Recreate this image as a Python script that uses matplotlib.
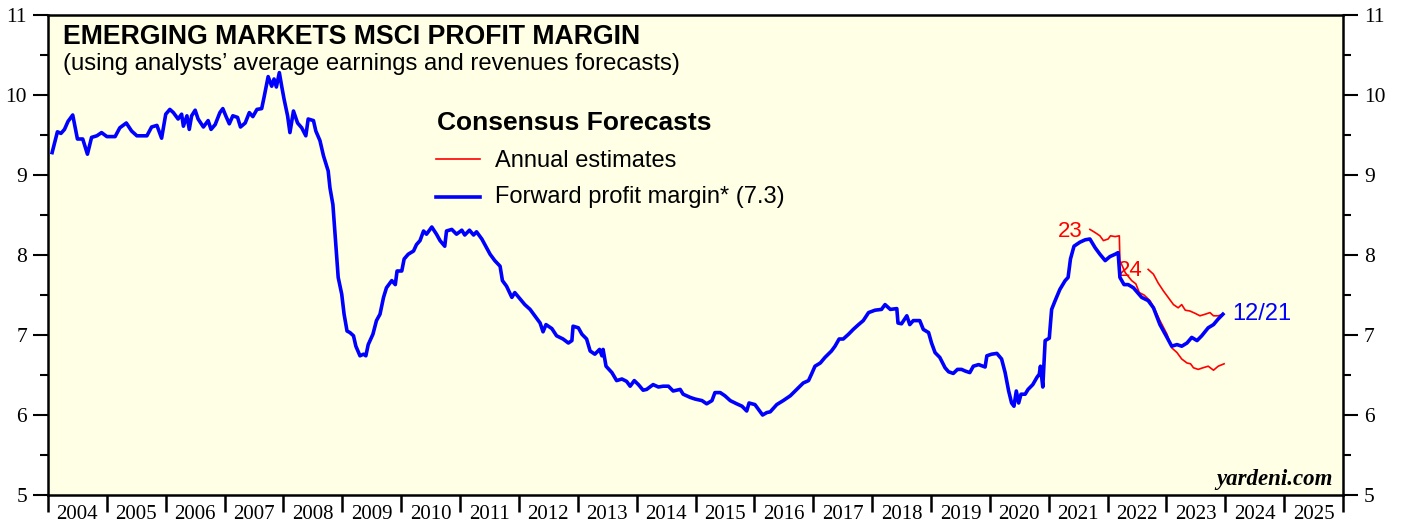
#!/usr/bin/python

import numpy as np
import matplotlib
matplotlib.use('Agg')
import matplotlib.pyplot as plt
from matplotlib.ticker import MultipleLocator, FixedLocator, NullFormatter

# forward profit margin (decimal year, percent)
fwd_dates = [
    2004.07, 2004.16, 2004.22, 2004.28, 2004.34, 2004.42, 2004.50, 2004.59, 2004.67, 2004.74,
    2004.83, 2004.91, 2005.00, 2005.14, 2005.22, 2005.33, 2005.42, 2005.51, 2005.68, 2005.76,
    2005.85, 2005.93, 2006.00, 2006.07, 2006.13, 2006.21, 2006.27, 2006.30, 2006.36, 2006.40,
    2006.44, 2006.50, 2006.55, 2006.64, 2006.72, 2006.77, 2006.84, 2006.92, 2006.97, 2007.02,
    2007.08, 2007.14, 2007.22, 2007.27, 2007.35, 2007.42, 2007.48, 2007.55, 2007.63, 2007.67,
    2007.74, 2007.80, 2007.84, 2007.88, 2007.93, 2007.97, 2008.01, 2008.07, 2008.11, 2008.17,
    2008.24, 2008.31, 2008.38, 2008.42, 2008.51, 2008.55, 2008.62, 2008.68, 2008.76, 2008.79,
    2008.84, 2008.89, 2008.93, 2008.99, 2009.03, 2009.08, 2009.13, 2009.19, 2009.23, 2009.30,
    2009.36, 2009.40, 2009.44, 2009.52, 2009.58, 2009.64, 2009.70, 2009.75, 2009.84, 2009.90,
    2009.93, 2010.01, 2010.05, 2010.12, 2010.21, 2010.26, 2010.32, 2010.38, 2010.43, 2010.52,
    2010.60, 2010.66, 2010.74, 2010.77, 2010.86, 2010.94, 2011.03, 2011.08, 2011.16, 2011.23,
    2011.28, 2011.37, 2011.45, 2011.51, 2011.59, 2011.68, 2011.72, 2011.79, 2011.88, 2011.93,
    2012.02, 2012.10, 2012.19, 2012.27, 2012.36, 2012.41, 2012.46, 2012.56, 2012.64, 2012.75,
    2012.84, 2012.90, 2012.92, 2013.01, 2013.07, 2013.15, 2013.21, 2013.29, 2013.37, 2013.41,
    2013.43, 2013.48, 2013.58, 2013.66, 2013.75, 2013.83, 2013.89, 2013.96, 2014.03, 2014.11,
    2014.17, 2014.28, 2014.37, 2014.45, 2014.54, 2014.62, 2014.74, 2014.79, 2014.91, 2014.99,
    2015.11, 2015.19, 2015.28, 2015.33, 2015.42, 2015.50, 2015.59, 2015.70, 2015.79, 2015.87,
    2015.91, 2016.01, 2016.07, 2016.14, 2016.21, 2016.27, 2016.38, 2016.49, 2016.61, 2016.72,
    2016.83, 2016.92, 2016.97, 2017.03, 2017.12, 2017.20, 2017.31, 2017.37, 2017.44, 2017.51,
    2017.60, 2017.68, 2017.77, 2017.85, 2017.94, 2018.05, 2018.16, 2018.22, 2018.31, 2018.42,
    2018.44, 2018.50, 2018.59, 2018.64, 2018.70, 2018.81, 2018.87, 2018.96, 2019.01, 2019.07,
    2019.15, 2019.24, 2019.30, 2019.38, 2019.45, 2019.52, 2019.58, 2019.66, 2019.72, 2019.81,
    2019.92, 2019.95, 2020.03, 2020.12, 2020.20, 2020.26, 2020.32, 2020.37, 2020.41, 2020.45,
    2020.49, 2020.53, 2020.60, 2020.65, 2020.73, 2020.80, 2020.84, 2020.86, 2020.90, 2020.94,
    2021.01, 2021.05, 2021.11, 2021.19, 2021.28, 2021.33, 2021.37, 2021.43, 2021.53, 2021.62,
    2021.70, 2021.79, 2021.87, 2021.96, 2022.04, 2022.13, 2022.18, 2022.21, 2022.28, 2022.35,
    2022.44, 2022.51, 2022.58, 2022.69, 2022.78, 2022.89, 2023.01, 2023.09, 2023.18, 2023.26,
    2023.35, 2023.43, 2023.52, 2023.60, 2023.71, 2023.80, 2023.88, 2023.96,
]
fwd_values = [
    9.28, 9.54, 9.52, 9.57, 9.67, 9.75, 9.45, 9.45, 9.26, 9.47,
    9.49, 9.53, 9.48, 9.48, 9.59, 9.65, 9.55, 9.49, 9.49, 9.60,
    9.62, 9.46, 9.76, 9.82, 9.78, 9.70, 9.76, 9.61, 9.74, 9.57,
    9.74, 9.81, 9.70, 9.60, 9.68, 9.57, 9.63, 9.78, 9.83, 9.74,
    9.64, 9.74, 9.72, 9.60, 9.65, 9.78, 9.73, 9.82, 9.83, 9.97,
    10.23, 10.11, 10.20, 10.10, 10.28, 10.11, 9.95, 9.74, 9.53, 9.80,
    9.65, 9.59, 9.49, 9.70, 9.68, 9.55, 9.43, 9.24, 9.05, 8.84,
    8.63, 8.13, 7.72, 7.51, 7.26, 7.05, 7.03, 6.99, 6.86, 6.74,
    6.76, 6.74, 6.88, 7.01, 7.18, 7.26, 7.47, 7.59, 7.68, 7.63,
    7.80, 7.80, 7.95, 8.01, 8.05, 8.13, 8.18, 8.30, 8.26, 8.35,
    8.26, 8.18, 8.11, 8.30, 8.32, 8.26, 8.31, 8.25, 8.31, 8.25,
    8.29, 8.20, 8.09, 8.01, 7.93, 7.86, 7.68, 7.61, 7.47, 7.53,
    7.45, 7.38, 7.32, 7.24, 7.15, 7.04, 7.13, 7.08, 6.99, 6.95,
    6.90, 6.93, 7.11, 7.09, 7.01, 6.95, 6.80, 6.76, 6.82, 6.74,
    6.82, 6.61, 6.53, 6.43, 6.45, 6.42, 6.36, 6.43, 6.38, 6.31,
    6.32, 6.38, 6.35, 6.36, 6.36, 6.30, 6.32, 6.26, 6.22, 6.20,
    6.18, 6.14, 6.18, 6.28, 6.28, 6.24, 6.18, 6.14, 6.11, 6.05,
    6.15, 6.13, 6.07, 6.00, 6.03, 6.04, 6.13, 6.18, 6.24, 6.32,
    6.40, 6.43, 6.51, 6.61, 6.65, 6.72, 6.80, 6.86, 6.95, 6.95,
    7.01, 7.07, 7.13, 7.18, 7.28, 7.31, 7.32, 7.38, 7.32, 7.33,
    7.15, 7.14, 7.24, 7.13, 7.18, 7.18, 7.07, 7.03, 6.90, 6.78,
    6.72, 6.59, 6.54, 6.52, 6.57, 6.57, 6.55, 6.53, 6.61, 6.63,
    6.60, 6.74, 6.76, 6.77, 6.70, 6.53, 6.30, 6.15, 6.11, 6.30,
    6.15, 6.26, 6.26, 6.32, 6.38, 6.47, 6.51, 6.61, 6.35, 6.93,
    6.96, 7.32, 7.43, 7.57, 7.68, 7.72, 7.95, 8.11, 8.16, 8.19,
    8.20, 8.09, 8.01, 7.93, 7.98, 8.01, 8.03, 7.72, 7.63, 7.63,
    7.59, 7.53, 7.47, 7.43, 7.34, 7.13, 6.97, 6.86, 6.88, 6.86,
    6.90, 6.97, 6.93, 6.99, 7.09, 7.13, 7.20, 7.26,
]

# annual estimates for 2023
est23_dates = [
    2021.70, 2021.79, 2021.87, 2021.93, 2022.01, 2022.05, 2022.13, 2022.20, 2022.21, 2022.30,
    2022.41, 2022.48, 2022.54, 2022.62, 2022.72, 2022.79, 2022.89, 2023.01, 2023.09, 2023.18,
    2023.26, 2023.35, 2023.41, 2023.46, 2023.54, 2023.62, 2023.71, 2023.80, 2023.88, 2023.98,
]
est23_values = [
    8.32, 8.28, 8.24, 8.18, 8.20, 8.24, 8.23, 8.24, 7.93, 7.78,
    7.68, 7.64, 7.53, 7.50, 7.43, 7.34, 7.18, 7.01, 6.84, 6.78,
    6.70, 6.65, 6.64, 6.59, 6.57, 6.59, 6.61, 6.56, 6.61, 6.64,
]

# annual estimates for 2024
est24_dates = [
    2022.69, 2022.78, 2022.86, 2022.95, 2023.03, 2023.12, 2023.20, 2023.26, 2023.32, 2023.40,
    2023.49, 2023.57, 2023.66, 2023.74, 2023.80, 2023.88, 2023.96,
]
est24_values = [
    7.82, 7.76, 7.65, 7.55, 7.47, 7.38, 7.34, 7.38, 7.31, 7.30,
    7.27, 7.24, 7.26, 7.28, 7.24, 7.24, 7.26,
]

years = list(range(2004, 2026))
y_ticks = [5, 6, 7, 8, 9, 10, 11]

title = 'EMERGING MARKETS MSCI PROFIT MARGIN'
subtitle = '(using analysts\u2019 average earnings and revenues forecasts)'
legend_title = 'Consensus Forecasts'
legend_labels = ['Annual estimates', 'Forward profit margin* (7.3)']

def main():
    sans = 'Liberation Sans'
    serif = 'Liberation Serif'
    red = '#FF0000'
    blue = '#0000FF'

    fig = plt.figure(figsize=(14.03, 5.24), dpi=100)
    ax = fig.add_axes([48/1403, 29/524, 1295/1403, 480/524])
    ax.set_facecolor('#FFFFE6')

    # data lines
    ax.plot(est23_dates, est23_values, color=red, lw=1.2, zorder=3)
    ax.plot(est24_dates, est24_values, color=red, lw=1.2, zorder=3)
    ax.plot(fwd_dates, fwd_values, color=blue, lw=2.6, zorder=4, solid_joinstyle='round')

    ax.set_xlim(2004, 2026)
    ax.set_ylim(5, 11)

    # spines
    for s in ax.spines.values():
        s.set_linewidth(1.8)
        s.set_color('black')

    # y axis on both sides
    ax.yaxis.set_major_locator(FixedLocator(y_ticks))
    ax.yaxis.set_minor_locator(MultipleLocator(0.5))
    ax.tick_params(axis='y', which='major', left=True, right=True, labelleft=True, labelright=True,
                   direction='out', length=11, width=1.5, pad=4, labelsize=15.5)
    ax.tick_params(axis='y', which='minor', left=True, right=True, direction='out', length=6, width=1.5)
    for lab in ax.get_yticklabels():
        lab.set_fontfamily(serif)

    # x axis: ticks at year boundaries, labels mid year
    ax.xaxis.set_major_locator(FixedLocator(years + [2026]))
    ax.xaxis.set_major_formatter(NullFormatter())
    ax.set_xticks([y + 0.5 for y in years], [str(y) for y in years], minor=True)
    ax.tick_params(axis='x', which='major', direction='out', length=12, width=1.8, top=False)
    ax.tick_params(axis='x', which='minor', length=0, pad=7, labelsize=15, top=False)
    for lab in ax.get_xticklabels(minor=True):
        lab.set_fontfamily(serif)

    # titles
    ax.text(0.0116, 0.939, title, transform=ax.transAxes, fontsize=19.2, fontweight='bold',
            family=sans, va='baseline', ha='left')
    ax.text(0.0116, 0.885, subtitle, transform=ax.transAxes, fontsize=17.2,
            family=sans, va='baseline', ha='left')

    # legend drawn by hand
    ax.text(0.3004, 0.760, legend_title, transform=ax.transAxes, fontsize=19, fontweight='bold',
            family=sans, va='baseline', ha='left')
    ax.plot([0.2996, 0.3336], [0.699, 0.699], transform=ax.transAxes, color=red, lw=1.2)
    ax.plot([0.2996, 0.3336], [0.620, 0.620], transform=ax.transAxes, color=blue, lw=2.6)
    ax.text(0.3452, 0.684, legend_labels[0], transform=ax.transAxes, fontsize=17,
            family=sans, va='baseline', ha='left')
    ax.text(0.3452, 0.608, legend_labels[1], transform=ax.transAxes, fontsize=17,
            family=sans, va='baseline', ha='left')

    # series labels
    ax.text(est23_dates[0] - 0.13, est23_values[0] - 0.03, '23', color=red, fontsize=16,
            family=sans, ha='right', va='center')
    ax.text(2022.18, 7.81, '24', color=red, fontsize=16, family=sans, ha='left', va='center')
    ax.text(fwd_dates[-1] + 0.16, fwd_values[-1], '12/21', color=blue, fontsize=17,
            family=sans, ha='left', va='center')

    ax.text(0.992, 0.021, 'yardeni.com', transform=ax.transAxes, fontsize=16.5,
            fontweight='bold', fontstyle='italic', family=serif, ha='right', va='baseline')

    fig.savefig('out.png', dpi=100, facecolor='white')
    plt.close(fig)

if __name__ == '__main__':
    main()
